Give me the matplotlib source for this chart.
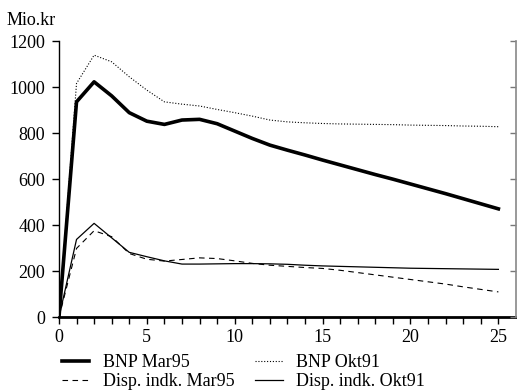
import matplotlib.pyplot as plt

plt.rcParams['font.family'] = ['Liberation Serif', 'DejaVu Serif']

aar = list(range(26))
bnp_mar95 = [0, 937, 1024, 963, 890, 853, 839, 858, 861, 842, 810, 778, 749, 727,
             706, 684, 663, 642, 621, 601, 580, 559, 538, 516, 494, 472]
bnp_okt91 = [0, 1017, 1140, 1111, 1046, 988, 937, 927, 919, 904, 890, 875, 858, 850,
             846, 843, 841, 840, 839, 838, 836, 835, 834, 832, 831, 829]
disp_mar95 = [0, 300, 377, 351, 278, 253, 245, 252, 259, 256, 246, 235, 227, 222,
              217, 213, 205, 195, 185, 175, 165, 155, 145, 133, 122, 111]
disp_okt91 = [0, 339, 409, 346, 283, 264, 246, 232, 232, 233, 234, 234, 233, 231,
              227, 224, 222, 220, 218, 216, 214, 213, 212, 211, 210, 209]

fig = plt.figure(figsize=(5.17, 3.9), dpi=100)
ax = fig.add_axes([0.114, 0.186, 0.884, 0.708])

ax.plot(aar, bnp_mar95, color='black', linewidth=2.6, label='BNP Mar95')
ax.plot(aar, bnp_okt91, color='black', linewidth=0.8, linestyle=(0, (1, 1.6)), label='BNP Okt91')
ax.plot(aar, disp_mar95, color='black', linewidth=0.8, linestyle=(0, (5, 4)), label='Disp. indk. Mar95')
ax.plot(aar, disp_okt91, color='black', linewidth=0.9, label='Disp. indk. Okt91')

ax.set_xlim(0, 26)
ax.set_ylim(0, 1200)
ax.set_xticks(range(0, 26, 5))
ax.set_xticks(range(0, 26), minor=True)
ax.set_yticks(range(0, 1201, 200))

ax.spines['top'].set_visible(False)
ax.spines['right'].set_visible(False)
ax.spines['bottom'].set_linewidth(2)
ax.spines['left'].set_linewidth(1)

ax.tick_params(axis='x', which='both', direction='out', length=5, width=1, labelsize=13, pad=3)
ax.tick_params(axis='y', direction='out', length=5, width=1, labelsize=13, pad=5)

# hoejre akse: kun streger, ingen tal
ax2 = ax.twinx()
ax2.set_ylim(ax.get_ylim())
ax2.set_yticks(range(0, 1201, 200))
ax2.tick_params(axis='y', direction='in', length=4, width=1, labelright=False, color='#777777')
ax2.spines['right'].set_color('#888888')
ax2.spines['right'].set_linewidth(1.2)
for side in ['top', 'left', 'bottom']:
    ax2.spines[side].set_visible(False)

fig.text(0.012, 0.935, 'Mio.kr', fontsize=13, ha='left', va='baseline')

fig.legend(loc='upper left', bbox_to_anchor=(0.105, 0.11), ncol=2, frameon=False,
           fontsize=13, handlelength=1.55, handletextpad=0.75, columnspacing=1.1,
           labelspacing=0.1, borderaxespad=0,
           handles=[ax.lines[0], ax.lines[2], ax.lines[1], ax.lines[3]])

fig.savefig('out.png', dpi=100)
